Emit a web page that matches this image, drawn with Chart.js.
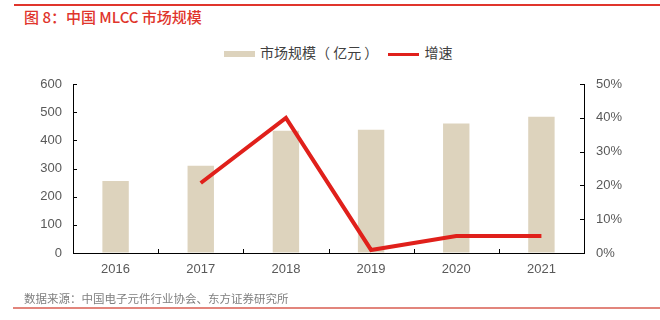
<!DOCTYPE html>
<html>
<head>
<meta charset="utf-8">
<script src="https://cdn.jsdelivr.net/npm/chart.js@4/dist/chart.umd.min.js"></script>
<style>
  html, body { margin: 0; padding: 0; background: #fff; }
  #wrap { position: relative; width: 660px; height: 320px; overflow: hidden; font-family: "Noto Sans CJK SC", "Liberation Sans", sans-serif; }
  #topline { position: absolute; left: 14px; right: 0; top: 4px; height: 2px; background: #e0352c; }
  #title { position: absolute; left: 24px; top: 6px; font-size: 15px; font-weight: 500; color: #e0352c; line-height: 22px; white-space: nowrap; }
  #legend { position: absolute; top: 43px; left: 224px; font-size: 14px; color: #404040; line-height: 18px; white-space: nowrap; }
  #legend .sw { display: inline-block; vertical-align: middle; }
  #source { position: absolute; left: 24px; top: 290px; font-size: 11.5px; color: #7f7f7f; line-height: 16px; white-space: nowrap; }
  #botline { position: absolute; left: 13px; right: 0; top: 307px; height: 2px; background: #e2857c; }
  canvas { position: absolute; left: 0; top: 0; }
</style>
</head>
<body>
<div id="wrap">
  <div id="topline"></div>
  <div id="title">图 8：中国 MLCC 市场规模</div>
  <div id="legend">
    <span class="sw" style="width:31px;height:6px;background:#ddd3bd;margin-right:5px;"></span><span>市场规模（ 亿元 ）</span>
    <span class="sw" style="width:31px;height:3px;background:#e0201b;margin-left:7px;margin-right:5px;"></span><span>增速</span>
  </div>
  <canvas id="c" width="660" height="320"></canvas>
  <div id="source">数据来源：中国电子元件行业协会、东方证券研究所</div>
  <div id="botline"></div>
</div>
<script>
// data
const years = ['2016', '2017', '2018', '2019', '2020', '2021'];
const marketSize = [256, 310, 434, 438, 460, 484];   // 亿元
const growth = [null, 0.207, 0.40, 0.009, 0.05, 0.05];
const leftTicks = [0, 100, 200, 300, 400, 500, 600];
const rightTicks = [0, 0.1, 0.2, 0.3, 0.4, 0.5];

const tickFont = { family: '"Liberation Sans", Arial, sans-serif', size: 13 };
const tickColor = '#595959';

// small inward tick marks like the original excel chart
const innerTicks = {
  id: 'innerTicks',
  afterDatasetsDraw(chart) {
    const ctx = chart.ctx;
    const a = chart.chartArea;
    ctx.save();
    ctx.strokeStyle = '#000';
    ctx.lineWidth = 1;
    ctx.beginPath();
    const y = chart.scales.y;
    y.ticks.forEach((t, i) => {
      const p = Math.round(y.getPixelForTick(i)) + 0.5;
      ctx.moveTo(a.left, p); ctx.lineTo(a.left + 4, p);
    });
    const y1 = chart.scales.y1;
    y1.ticks.forEach((t, i) => {
      const p = Math.round(y1.getPixelForTick(i)) + 0.5;
      ctx.moveTo(a.right, p); ctx.lineTo(a.right - 4, p);
    });
    const x = chart.scales.x;
    const half = (x.getPixelForTick(1) - x.getPixelForTick(0)) / 2;
    for (let i = 1; i < years.length; i++) {
      const p = Math.round(x.getPixelForTick(i) - half) + 0.5;
      ctx.moveTo(p, a.bottom); ctx.lineTo(p, a.bottom - 4);
    }
    ctx.stroke();
    ctx.restore();
  }
};

new Chart(document.getElementById('c'), {
  data: {
    labels: years,
    datasets: [
      {
        type: 'line',
        label: '增速',
        data: growth,
        yAxisID: 'y1',
        borderColor: '#e0201b',
        borderWidth: 4,
        pointRadius: 0,
        tension: 0,
        spanGaps: false,
        order: 0
      },
      {
        type: 'bar',
        label: '市场规模（亿元）',
        data: marketSize,
        yAxisID: 'y',
        backgroundColor: '#ddd3bd',
        categoryPercentage: 1,
        barPercentage: 0.31,
        order: 1
      }
    ]
  },
  options: {
    responsive: false,
    animation: false,
    layout: { padding: { top: 84, bottom: 47, left: 0, right: 0 } },
    plugins: { legend: { display: false }, tooltip: { enabled: false } },
    scales: {
      x: {
        offset: true,
        grid: { drawOnChartArea: false, drawTicks: false, offset: true },
        border: { display: true, color: '#000', width: 1 },
        ticks: { font: tickFont, color: tickColor, padding: 9 },
        afterFit(s) { s.height = 20; }
      },
      y: {
        position: 'left',
        min: 0, max: 600,
        afterBuildTicks(s) { s.ticks = leftTicks.map(v => ({ value: v })); },
        grid: { drawOnChartArea: false, drawTicks: false },
        border: { display: true, color: '#000', width: 1 },
        ticks: { font: tickFont, color: tickColor, padding: 11 },
        afterFit(s) { s.width = 73; }
      },
      y1: {
        position: 'right',
        min: 0, max: 0.5,
        afterBuildTicks(s) { s.ticks = rightTicks.map(v => ({ value: v })); },
        grid: { drawOnChartArea: false, drawTicks: false },
        border: { display: true, color: '#000', width: 1 },
        ticks: {
          font: tickFont, color: tickColor, padding: 12,
          callback: v => Math.round(v * 100) + '%'
        },
        afterFit(s) { s.width = 76; }
      }
    }
  },
  plugins: [innerTicks]
});
</script>
</body>
</html>
